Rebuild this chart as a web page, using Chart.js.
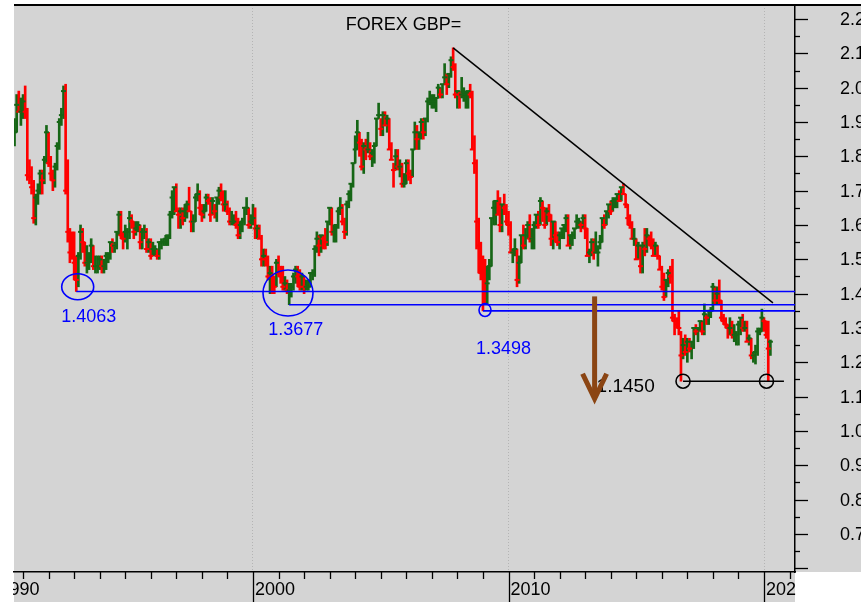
<!DOCTYPE html>
<html>
<head>
<meta charset="utf-8">
<script src="https://cdn.jsdelivr.net/npm/chart.js@4.4.1/dist/chart.umd.min.js"></script>
<style>
  html, body { margin: 0; padding: 0; background: #fff; overflow: hidden; width: 861px; height: 602px; }
  #wrap { width: 880px; height: 602px; }
  canvas { display: block; }
</style>
</head>
<body>
<div id="wrap"><canvas id="fx" width="880" height="602"></canvas></div>
<script>
// Monthly GBP/USD bars, first bar = Sep 1990
const START_YEAR = 1990;
const START_MONTH = 9;
const firstOpen = 1.86;

const closes = [
  1.87, 1.95, 1.93, 1.93,
  1.96, 1.93, 1.745, 1.74, 1.71, 1.62, 1.68, 1.70, 1.75, 1.73, 1.79, 1.87,
  1.78, 1.75, 1.73, 1.77, 1.83, 1.90, 1.92, 1.99, 1.70, 1.58, 1.52, 1.51,
  1.49, 1.44, 1.51, 1.58, 1.55, 1.49, 1.49, 1.50, 1.54, 1.48, 1.48, 1.48,
  1.50, 1.48, 1.48, 1.51, 1.51, 1.55, 1.54, 1.54, 1.58, 1.63, 1.57, 1.56,
  1.58, 1.58, 1.62, 1.61, 1.58, 1.59, 1.60, 1.55, 1.58, 1.58, 1.53, 1.55,
  1.51, 1.53, 1.53, 1.51, 1.55, 1.55, 1.55, 1.56, 1.57, 1.63, 1.68, 1.71,
  1.64, 1.63, 1.64, 1.62, 1.64, 1.66, 1.64, 1.61, 1.61, 1.68, 1.69, 1.65,
  1.63, 1.64, 1.68, 1.67, 1.63, 1.67, 1.64, 1.68, 1.70, 1.68, 1.66, 1.66,
  1.64, 1.61, 1.61, 1.61, 1.60, 1.57, 1.60, 1.61, 1.65, 1.65, 1.60, 1.61,
  1.62, 1.59, 1.59, 1.56, 1.50, 1.51, 1.50, 1.45, 1.46, 1.45, 1.42, 1.49,
  1.46, 1.45, 1.42, 1.43, 1.41, 1.41, 1.42, 1.45, 1.47, 1.45, 1.42, 1.45,
  1.42, 1.42, 1.42, 1.46, 1.46, 1.53, 1.56, 1.54, 1.57, 1.56, 1.55, 1.61,
  1.65, 1.58, 1.58, 1.60, 1.64, 1.65, 1.61, 1.58, 1.66, 1.69, 1.72, 1.78,
  1.82, 1.87, 1.84, 1.77, 1.83, 1.82, 1.82, 1.80, 1.81, 1.83, 1.91, 1.92,
  1.88, 1.92, 1.89, 1.91, 1.82, 1.79, 1.76, 1.80, 1.77, 1.77, 1.72, 1.72,
  1.78, 1.75, 1.74, 1.82, 1.87, 1.85, 1.87, 1.90, 1.87, 1.91, 1.96, 1.96,
  1.96, 1.96, 1.97, 2.00, 1.98, 2.01, 2.03, 2.01, 2.04, 2.08, 2.06, 1.98,
  1.99, 1.98, 1.98, 1.98, 1.98, 1.99, 1.98, 1.82, 1.78, 1.61, 1.54, 1.46,
  1.45, 1.43, 1.43, 1.48, 1.62, 1.65, 1.67, 1.63, 1.60, 1.66, 1.65, 1.61,
  1.60, 1.52, 1.52, 1.53, 1.44, 1.49, 1.57, 1.54, 1.57, 1.60, 1.56, 1.56,
  1.60, 1.63, 1.60, 1.67, 1.65, 1.60, 1.64, 1.63, 1.56, 1.61, 1.57, 1.55,
  1.57, 1.59, 1.60, 1.62, 1.54, 1.57, 1.57, 1.59, 1.61, 1.61, 1.60, 1.62,
  1.59, 1.51, 1.52, 1.55, 1.52, 1.52, 1.52, 1.55, 1.62, 1.60, 1.64, 1.66,
  1.64, 1.67, 1.67, 1.69, 1.67, 1.71, 1.69, 1.66, 1.62, 1.60, 1.56, 1.56,
  1.50, 1.54, 1.48, 1.54, 1.53, 1.57, 1.56, 1.54, 1.51, 1.54, 1.51, 1.47,
  1.42, 1.39, 1.44, 1.46, 1.45, 1.33, 1.32, 1.31, 1.30, 1.22, 1.25, 1.23,
  1.26, 1.24, 1.26, 1.30, 1.29, 1.30, 1.32, 1.29, 1.34, 1.33, 1.35, 1.35,
  1.42, 1.38, 1.40, 1.38, 1.33, 1.32, 1.31, 1.30, 1.30, 1.28, 1.28, 1.28,
  1.31, 1.33, 1.30, 1.30, 1.26, 1.27, 1.22, 1.22, 1.23, 1.29, 1.29, 1.33,
  1.32, 1.28, 1.24, 1.26
];

const highs = [
  1.91, 1.98, 1.99, 1.97,
  1.98, 2.005, 1.94, 1.79, 1.77, 1.73, 1.69, 1.72, 1.76, 1.76, 1.80, 1.89,
  1.87, 1.80, 1.76, 1.78, 1.84, 1.91, 1.94, 2.005, 2.01, 1.79, 1.59, 1.58,
  1.58, 1.51, 1.52, 1.60, 1.59, 1.55, 1.54, 1.52, 1.56, 1.54, 1.51, 1.51,
  1.51, 1.51, 1.50, 1.52, 1.52, 1.55, 1.56, 1.55, 1.58, 1.64, 1.64, 1.58,
  1.60, 1.59, 1.64, 1.63, 1.61, 1.61, 1.61, 1.60, 1.59, 1.60, 1.59, 1.56,
  1.56, 1.55, 1.54, 1.53, 1.55, 1.56, 1.56, 1.57, 1.57, 1.64, 1.70, 1.71,
  1.72, 1.65, 1.65, 1.65, 1.66, 1.67, 1.71, 1.64, 1.63, 1.69, 1.72, 1.70,
  1.66, 1.66, 1.69, 1.69, 1.68, 1.68, 1.66, 1.68, 1.71, 1.72, 1.70, 1.70,
  1.67, 1.65, 1.64, 1.63, 1.64, 1.62, 1.61, 1.62, 1.65, 1.68, 1.65, 1.63,
  1.66, 1.65, 1.60, 1.60, 1.57, 1.53, 1.53, 1.51, 1.48, 1.48, 1.45, 1.50,
  1.51, 1.48, 1.48, 1.45, 1.44, 1.43, 1.43, 1.46, 1.48, 1.48, 1.47, 1.46,
  1.45, 1.44, 1.44, 1.46, 1.47, 1.54, 1.58, 1.57, 1.57, 1.57, 1.59, 1.61,
  1.65, 1.65, 1.60, 1.60, 1.65, 1.68, 1.66, 1.62, 1.67, 1.70, 1.72, 1.78,
  1.86, 1.905, 1.87, 1.85, 1.84, 1.85, 1.87, 1.84, 1.82, 1.84, 1.91, 1.955,
  1.91, 1.93, 1.93, 1.92, 1.91, 1.84, 1.78, 1.82, 1.82, 1.79, 1.78, 1.75,
  1.79, 1.79, 1.76, 1.82, 1.90, 1.89, 1.87, 1.91, 1.91, 1.91, 1.97, 1.99,
  1.98, 1.98, 1.97, 2.01, 2.00, 2.01, 2.07, 2.04, 2.04, 2.09, 2.116, 2.07,
  1.99, 1.99, 2.03, 2.00, 1.99, 1.99, 2.01, 1.99, 1.86, 1.79, 1.62, 1.55,
  1.51, 1.50, 1.48, 1.50, 1.62, 1.67, 1.67, 1.70, 1.68, 1.66, 1.69, 1.66,
  1.64, 1.61, 1.53, 1.56, 1.53, 1.51, 1.57, 1.60, 1.59, 1.61, 1.63, 1.59,
  1.61, 1.63, 1.64, 1.68, 1.67, 1.65, 1.65, 1.66, 1.63, 1.61, 1.61, 1.58,
  1.58, 1.59, 1.60, 1.63, 1.63, 1.57, 1.58, 1.59, 1.63, 1.62, 1.61, 1.63,
  1.63, 1.59, 1.53, 1.56, 1.56, 1.58, 1.54, 1.57, 1.62, 1.63, 1.64, 1.66,
  1.67, 1.68, 1.68, 1.69, 1.70, 1.71, 1.72, 1.69, 1.66, 1.63, 1.61, 1.59,
  1.56, 1.55, 1.54, 1.55, 1.59, 1.59, 1.57, 1.58, 1.56, 1.55, 1.54, 1.51,
  1.48, 1.46, 1.44, 1.47, 1.48, 1.50, 1.34, 1.33, 1.35, 1.29, 1.27, 1.28,
  1.27, 1.27, 1.26, 1.30, 1.31, 1.30, 1.32, 1.32, 1.37, 1.34, 1.35, 1.36,
  1.43, 1.42, 1.42, 1.44, 1.38, 1.34, 1.33, 1.31, 1.33, 1.32, 1.31, 1.29,
  1.32, 1.33, 1.34, 1.32, 1.32, 1.28, 1.27, 1.23, 1.25, 1.30, 1.30, 1.355,
  1.33, 1.32, 1.32, 1.265
];

const lows = [
  1.83, 1.87, 1.93, 1.89,
  1.91, 1.91, 1.73, 1.72, 1.69, 1.605, 1.60, 1.66, 1.69, 1.69, 1.72, 1.78,
  1.77, 1.73, 1.70, 1.71, 1.76, 1.82, 1.89, 1.91, 1.69, 1.55, 1.49, 1.50,
  1.44, 1.4063, 1.42, 1.50, 1.52, 1.48, 1.46, 1.47, 1.49, 1.47, 1.46, 1.46,
  1.47, 1.46, 1.46, 1.47, 1.49, 1.50, 1.52, 1.52, 1.53, 1.57, 1.56, 1.53,
  1.55, 1.53, 1.56, 1.59, 1.56, 1.57, 1.58, 1.53, 1.53, 1.56, 1.52, 1.52,
  1.50, 1.51, 1.51, 1.50, 1.50, 1.53, 1.54, 1.54, 1.54, 1.56, 1.62, 1.63,
  1.64, 1.59, 1.59, 1.60, 1.61, 1.62, 1.64, 1.58, 1.58, 1.61, 1.67, 1.63,
  1.61, 1.62, 1.64, 1.66, 1.61, 1.63, 1.62, 1.61, 1.66, 1.67, 1.64, 1.64,
  1.63, 1.60, 1.60, 1.60, 1.59, 1.56, 1.56, 1.58, 1.60, 1.63, 1.59, 1.59,
  1.60, 1.56, 1.56, 1.56, 1.48, 1.48, 1.48, 1.44, 1.40, 1.40, 1.40, 1.42,
  1.45, 1.43, 1.41, 1.41, 1.40, 1.3677, 1.39, 1.41, 1.43, 1.42, 1.41, 1.41,
  1.40, 1.41, 1.41, 1.42, 1.44, 1.45, 1.52, 1.51, 1.52, 1.53, 1.53, 1.54,
  1.60, 1.57, 1.55, 1.55, 1.59, 1.63, 1.60, 1.56, 1.57, 1.65, 1.67, 1.71,
  1.78, 1.82, 1.80, 1.76, 1.75, 1.79, 1.81, 1.79, 1.77, 1.78, 1.83, 1.91,
  1.86, 1.86, 1.89, 1.87, 1.82, 1.79, 1.71, 1.76, 1.76, 1.74, 1.71, 1.71,
  1.72, 1.73, 1.72, 1.74, 1.82, 1.82, 1.82, 1.85, 1.85, 1.86, 1.90, 1.95,
  1.94, 1.94, 1.93, 1.97, 1.97, 1.97, 2.01, 1.98, 2.00, 2.03, 2.05, 1.97,
  1.94, 1.94, 1.97, 1.96, 1.94, 1.94, 1.97, 1.82, 1.75, 1.53, 1.46, 1.44,
  1.3498, 1.37, 1.37, 1.44, 1.48, 1.60, 1.60, 1.63, 1.58, 1.58, 1.63, 1.60,
  1.57, 1.52, 1.49, 1.51, 1.42, 1.43, 1.49, 1.53, 1.53, 1.56, 1.55, 1.53,
  1.53, 1.59, 1.59, 1.60, 1.61, 1.59, 1.60, 1.61, 1.54, 1.53, 1.55, 1.54,
  1.53, 1.56, 1.56, 1.58, 1.54, 1.53, 1.54, 1.56, 1.59, 1.59, 1.58, 1.59,
  1.56, 1.51, 1.49, 1.51, 1.50, 1.52, 1.48, 1.53, 1.55, 1.59, 1.60, 1.62,
  1.63, 1.64, 1.65, 1.65, 1.67, 1.67, 1.69, 1.65, 1.60, 1.59, 1.56, 1.54,
  1.50, 1.50, 1.46, 1.46, 1.51, 1.52, 1.54, 1.53, 1.51, 1.51, 1.50, 1.47,
  1.41, 1.38, 1.39, 1.42, 1.43, 1.32, 1.28, 1.30, 1.28, 1.145, 1.21, 1.22,
  1.20, 1.23, 1.21, 1.24, 1.28, 1.26, 1.29, 1.28, 1.28, 1.31, 1.31, 1.33,
  1.35, 1.37, 1.37, 1.37, 1.32, 1.31, 1.30, 1.27, 1.28, 1.27, 1.26, 1.25,
  1.25, 1.28, 1.29, 1.29, 1.26, 1.25, 1.21, 1.20, 1.195, 1.22, 1.28, 1.29,
  1.29, 1.27, 1.145, 1.22
];

// Tick labels
const yearLabels = [1990, 2000, 2010, 2020];
const priceLabels = [2.2, 2.1, 2.0, 1.9, 1.8, 1.7, 1.6, 1.5, 1.4, 1.3, 1.2, 1.1, 1.0, 0.9, 0.8, 0.7];

// Annotations (data coordinates)
const supportLevels = [1.4063, 1.3677, 1.3498];
const supportFrom = [1993 + 1 / 12, 2001 + 5 / 12, 2009.0];
const trendFrom = [2007 + 10 / 12, 2.116];
const trendTo = [2020.35, 1.373];
const floorLevel = 1.145;
const floorFrom = 2016.83;
const floorTo = 2020.78;
const arrowYear = 2013.37;
const arrowTop = 1.392;
const arrowTip = 1.088;

// Axis ranges
const YEAR_MIN = 1990.646, YEAR_MAX = 2021.213;
const PRICE_MIN = 0.5892, PRICE_MAX = 2.2408;

const RED = "#ff0000";
const GREEN = "#166616";
const BLUE = "#0000ff";
const BROWN = "#8b4513";
const PLOT_BG = "#d4d4d4";
const FONT = "'Liberation Sans', Arial, sans-serif";

const monthX = closes.map((_, i) => START_YEAR + (START_MONTH - 1 + i) / 12);
const barColors = closes.map((c, i) => (c >= (i ? closes[i - 1] : firstOpen) ? GREEN : RED));

function hLine(x0, x1, y) {
  return [{ x: x0, y: y }, { x: x1, y: y }];
}

const lineStyle = { type: "line", pointRadius: 0, fill: false, tension: 0, order: 1 };

// Rings around the lows (centre in data units, radii in px)
const rings = [
  { x: 1993.139, y: 1.4202, rx: 16, ry: 13, color: BLUE },
  { x: 2001.37, y: 1.4019, rx: 25, ry: 23, color: BLUE },
  { x: 2009.08, y: 1.3523, rx: 6, ry: 6.5, color: BLUE },
  { x: 2016.83, y: 1.145, rx: 7, ry: 7, color: "#000" },
  { x: 2020.097, y: 1.145, rx: 7, ry: 7, color: "#000" },
];

// keep the scale label overhang from pushing the plot area around
function noPad(s) {
  s.paddingLeft = 0;
  s.paddingRight = 0;
  s.paddingTop = 0;
  s.paddingBottom = 0;
}

const decor = {
  id: "decor",
  beforeDraw(chart) {
    const { ctx, chartArea: a, width, height } = chart;
    ctx.save();
    ctx.fillStyle = "#fff";
    ctx.fillRect(0, 0, width, height);
    ctx.fillStyle = PLOT_BG;
    ctx.fillRect(a.left, a.top, width - a.left, a.bottom - a.top);
    ctx.fillRect(a.left, a.bottom, a.right - a.left, height - a.bottom);
    ctx.restore();
  },
  afterDatasetsDraw(chart) {
    const { ctx, chartArea: a } = chart;
    const xs = chart.scales.x, ys = chart.scales.y;
    ctx.save();

    // rings
    ctx.lineWidth = 1.6;
    rings.forEach((r) => {
      ctx.strokeStyle = r.color;
      ctx.beginPath();
      ctx.ellipse(xs.getPixelForValue(r.x), ys.getPixelForValue(r.y), r.rx, r.ry, 0, 0, Math.PI * 2);
      ctx.stroke();
    });

    // level labels
    ctx.font = "18px " + FONT;
    ctx.textAlign = "left";
    ctx.textBaseline = "middle";
    ctx.fillStyle = BLUE;
    const offs = [[-15, 26], [-21, 25], [-7, 38]];
    supportLevels.forEach((lvl, i) => {
      ctx.fillText(lvl.toFixed(4), xs.getPixelForValue(supportFrom[i]) + offs[i][0], ys.getPixelForValue(lvl) + offs[i][1]);
    });

    const ax = xs.getPixelForValue(arrowYear);
    ctx.fillStyle = "#000";
    ctx.font = "19px " + FONT;
    ctx.fillText(floorLevel.toFixed(4), ax + 2, ys.getPixelForValue(floorLevel) + 6);

    // arrow
    const y0 = ys.getPixelForValue(arrowTop), y1 = ys.getPixelForValue(arrowTip);
    ctx.strokeStyle = BROWN;
    ctx.lineWidth = 5;
    ctx.lineCap = "butt";
    ctx.beginPath();
    ctx.moveTo(ax, y0);
    ctx.lineTo(ax, y1 - 3);
    ctx.stroke();
    ctx.lineWidth = 5;
    ctx.lineJoin = "miter";
    ctx.beginPath();
    ctx.moveTo(ax - 12, y1 - 27);
    ctx.lineTo(ax, y1 - 2);
    ctx.lineTo(ax + 12, y1 - 27);
    ctx.stroke();

    // title
    ctx.font = "18px " + FONT;
    ctx.fillStyle = "#000";
    ctx.textAlign = "center";
    ctx.fillText("FOREX GBP=", (a.left + a.right) / 2 - 1, a.top + 20);
    ctx.restore();
  },
  afterDraw(chart) {
    const { ctx, chartArea: a, width, height } = chart;
    const xs = chart.scales.x, ys = chart.scales.y;
    ctx.save();
    // white corner under the price axis (cuts the last year label)
    ctx.fillStyle = "#fff";
    ctx.fillRect(a.right + 1, a.bottom + 1, width - a.right, height - a.bottom);

    ctx.strokeStyle = "#000";
    ctx.lineWidth = 1.3;
    xs.ticks.forEach((t) => {
      const p = Math.round(xs.getPixelForValue(t.value)) + 0.5;
      if (p < a.left || p > a.right + 1) return;
      const len = t.value % 10 === 0 ? height - a.bottom : 7;
      ctx.beginPath();
      ctx.moveTo(p, a.bottom);
      ctx.lineTo(p, a.bottom + len);
      ctx.stroke();
    });
    ys.ticks.forEach((t) => {
      const p = Math.round(ys.getPixelForValue(t.value)) + 0.5;
      const major = Math.abs(t.value * 10 - Math.round(t.value * 10)) < 1e-6;
      ctx.beginPath();
      ctx.moveTo(a.right, p);
      ctx.lineTo(a.right + (major ? 13 : 5), p);
      ctx.stroke();
    });
    // top frame line
    ctx.lineWidth = 2;
    ctx.beginPath();
    ctx.moveTo(a.left, a.top);
    ctx.lineTo(width, a.top);
    ctx.stroke();
    // white strip on the left edge
    ctx.fillStyle = "#fff";
    ctx.fillRect(0, 0, a.left - 1, height);
    ctx.restore();
  },
};

Chart.defaults.font.family = FONT;
Chart.defaults.color = "#000";

new Chart(document.getElementById("fx"), {
  type: "bar",
  data: {
    datasets: [
      {
        type: "bar",
        data: monthX.map((x, i) => ({ x: x, y: [lows[i], highs[i]] })),
        backgroundColor: barColors,
        borderWidth: 0,
        barThickness: 2,
        order: 3,
      },
      {
        type: "scatter",
        data: monthX.map((x, i) => ({ x: x, y: closes[i] })),
        pointStyle: "line",
        pointRadius: 2.5,
        borderWidth: 2,
        borderColor: barColors,
        order: 2,
      },
      Object.assign({}, lineStyle, {
        data: [{ x: trendFrom[0], y: trendFrom[1] }, { x: trendTo[0], y: trendTo[1] }],
        borderColor: "#000",
        borderWidth: 1.5,
      }),
      Object.assign({}, lineStyle, { data: hLine(supportFrom[0], YEAR_MAX, supportLevels[0]), borderColor: BLUE, borderWidth: 1.6 }),
      Object.assign({}, lineStyle, { data: hLine(supportFrom[1], YEAR_MAX, supportLevels[1]), borderColor: BLUE, borderWidth: 1.6 }),
      Object.assign({}, lineStyle, { data: hLine(supportFrom[2], YEAR_MAX, supportLevels[2]), borderColor: BLUE, borderWidth: 1.6 }),
      Object.assign({}, lineStyle, { data: hLine(floorFrom, floorTo, floorLevel), borderColor: "#000", borderWidth: 1.5 }),
    ],
  },
  options: {
    responsive: false,
    animation: false,
    events: [],
    layout: { autoPadding: false, padding: { left: 14, top: 5, right: 0, bottom: 0 } },
    plugins: { legend: { display: false }, tooltip: { enabled: false }, title: { display: false } },
    scales: {
      x: {
        type: "linear",
        min: YEAR_MIN,
        max: YEAR_MAX,
        offset: false,
        afterBuildTicks: (s) => { s.ticks.unshift({ value: 1990 }); },
        afterFit: (s) => { s.height = 30; noPad(s); },
        grid: {
          offset: false,
          drawTicks: false,
          lineWidth: 1,
          color: (c) => (c.tick && c.tick.value % 10 === 0 ? "#b4b4b4" : "rgba(0,0,0,0)"),
        },
        border: { display: true, color: "#000", width: 1.5, dash: [1, 2] },
        ticks: {
          stepSize: 1,
          includeBounds: false,
          autoSkip: false,
          maxRotation: 0,
          align: "start",
          labelOffset: 2,
          padding: 7,
          font: { size: 18 },
          callback: (v) => (yearLabels.includes(v) ? String(v) : ""),
        },
      },
      y: {
        position: "right",
        min: PRICE_MIN,
        max: PRICE_MAX,
        beginAtZero: false,
        afterFit: (s) => { s.width = 85; noPad(s); },
        grid: { display: false, drawTicks: false },
        border: { display: true, color: "#000", width: 1.5 },
        ticks: {
          stepSize: 0.05,
          includeBounds: false,
          autoSkip: false,
          padding: 45,
          labelOffset: 1,
          font: { size: 18 },
          callback: (v) => {
            const hit = priceLabels.find((p) => Math.abs(p - v) < 1e-6);
            return hit === undefined ? "" : hit.toFixed(1);
          },
        },
      },
    },
  },
  plugins: [decor],
});
</script>
</body>
</html>
